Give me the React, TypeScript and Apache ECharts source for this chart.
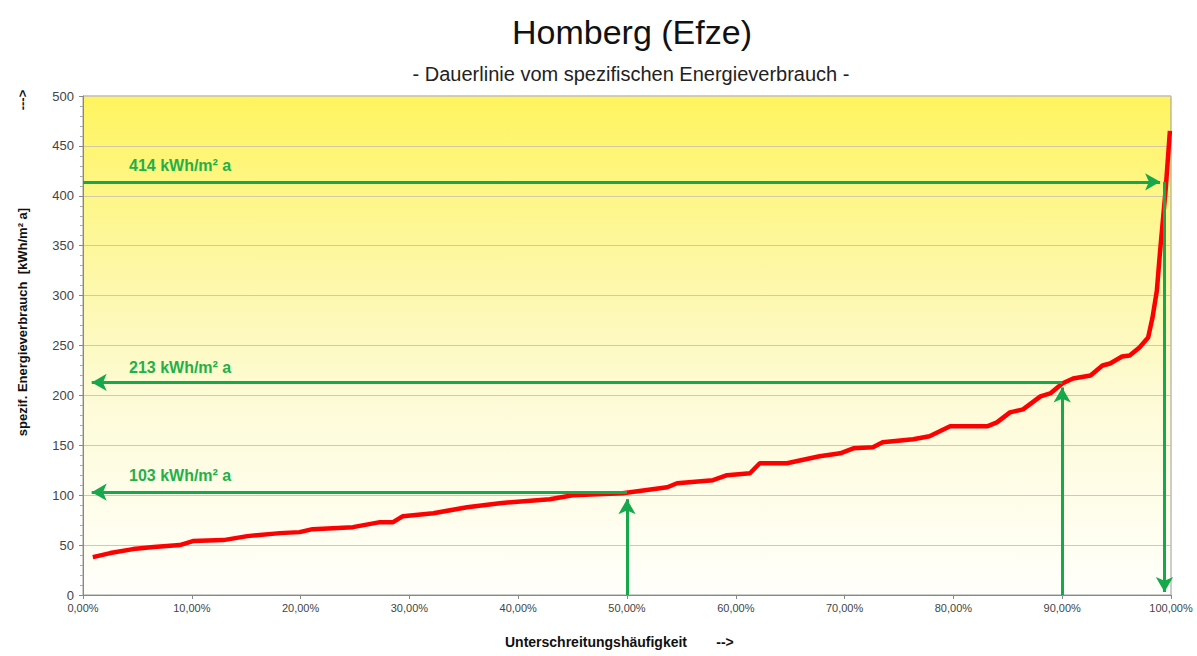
import React, { useEffect, useRef } from "react";
import * as echarts from "echarts";

const pctX: number[] = [0.9, 2.5, 4.6, 6.5, 8.9, 10.1, 12.9, 15.1, 18.1, 19.9, 21.1, 24.8, 27.3, 28.5, 29.4, 32.2, 35.3, 38.3, 42.9, 45.0, 49.6, 53.7, 54.6, 57.9, 59.2, 61.3, 62.2, 64.7, 67.7, 69.6, 70.8, 72.6, 73.5, 76.3, 77.8, 79.7, 83.1, 84.0, 85.2, 86.4, 88.0, 88.9, 90.0, 91.0, 92.6, 93.7, 94.4, 95.5, 96.2, 97.1, 97.9, 98.3, 98.7, 99.0, 99.5, 99.9];
const consumption: number[] = [38, 42, 46, 48, 50, 54, 55, 59, 62, 63, 66, 68, 73, 73, 79, 82, 88, 92, 96, 100, 102, 108, 112, 115, 120, 122, 132, 132, 139, 142, 147, 148, 153, 156, 159, 169, 169, 173, 183, 186, 199, 202, 212, 217, 220, 230, 232, 239, 240, 248, 258, 278, 305, 345, 405, 465];

const markValues: number[] = [414, 213, 103];
const markPercents: number[] = [99.4, 90, 50];
const markLabels: string[] = ["414 kWh/m² a", "213 kWh/m² a", "103 kWh/m² a"];

const FONT = "'Liberation Sans', Arial, sans-serif";
const GREEN = "#16a94c";

export default function App() {
  const ref = useRef<HTMLDivElement>(null);
  useEffect(() => {
    if (!ref.current) return;
    const chart = echarts.init(ref.current, null, { renderer: "svg" });
    const arrowLines: any[] = [
      [{ coord: [0, markValues[0]], symbol: "none" }, { coord: [markPercents[0] - 0.4, markValues[0]], symbol: "arrow" }],
      [{ coord: [markPercents[0], markValues[0]], symbol: "none" }, { coord: [markPercents[0], 3], symbol: "arrow" }],
      [{ coord: [markPercents[1], markValues[1]], symbol: "none" }, { coord: [0.8, markValues[1]], symbol: "arrow" }],
      [{ coord: [markPercents[1], 0], symbol: "none" }, { coord: [markPercents[1], markValues[1] - 5], symbol: "arrow" }],
      [{ coord: [markPercents[2], markValues[2]], symbol: "none" }, { coord: [0.8, markValues[2]], symbol: "arrow" }],
      [{ coord: [markPercents[2], 0], symbol: "none" }, { coord: [markPercents[2], markValues[2] - 7], symbol: "arrow" }],
    ];
    const labelY = [166, 368, 476];
    chart.setOption({
      animation: false,
      backgroundColor: "#ffffff",
      textStyle: { fontFamily: FONT },
      title: [
        {
          text: "Homberg (Efze)",
          left: 627,
          top: 10,
          textAlign: "center",
          textStyle: { fontSize: 34, fontWeight: "normal", color: "#111", fontFamily: FONT },
        },
        {
          text: "- Dauerlinie vom spezifischen Energieverbrauch -",
          left: 626,
          top: 59,
          textAlign: "center",
          textStyle: { fontSize: 20, fontWeight: "normal", color: "#222", fontFamily: FONT },
        },
      ],
      grid: {
        left: 83,
        right: 26,
        top: 96,
        bottom: 61,
        show: true,
        borderColor: "#9a9a9a",
        borderWidth: 1,
        backgroundColor: new echarts.graphic.LinearGradient(0, 0, 0, 1, [
          { offset: 0, color: "#fff45e" },
          { offset: 0.3, color: "#fdf79c" },
          { offset: 0.6, color: "#fdfbd6" },
          { offset: 1, color: "#fffffb" },
        ]),
      },
      xAxis: {
        type: "value",
        min: 0,
        max: 100,
        interval: 10,
        axisLine: { show: true, lineStyle: { color: "#888", width: 1 } },
        axisTick: { show: true, length: 4, inside: false, lineStyle: { color: "#888" } },
        splitLine: { show: false },
        axisLabel: {
          color: "#444",
          fontSize: 11,
          fontFamily: FONT,
          margin: 7,
          formatter: (v: number) => v.toFixed(2).replace(".", ",") + "%",
        },
      },
      yAxis: {
        type: "value",
        min: 0,
        max: 500,
        interval: 50,
        axisLine: { show: true, lineStyle: { color: "#888", width: 1 } },
        axisTick: { show: true, length: 4, lineStyle: { color: "#888" } },
        minorTick: { show: true, splitNumber: 5, length: 3, lineStyle: { color: "#aaa" } },
        splitLine: { show: true, lineStyle: { color: "#d2c9a6", width: 1 } },
        axisLabel: { color: "#444", fontSize: 13, fontFamily: FONT, margin: 9 },
      },
      series: [
        {
          type: "line",
          data: [],
          z: 2,
          silent: true,
          markLine: {
            silent: true,
            animation: false,
            symbolSize: [13, 15],
            label: { show: false },
            lineStyle: { color: GREEN, width: 3, type: "solid" },
            emphasis: { disabled: true },
            data: arrowLines,
          },
        },
        {
          type: "line",
          data: pctX.map((x, i) => [x, consumption[i]]),
          showSymbol: false,
          symbol: "none",
          z: 3,
          lineStyle: { color: "#ff0000", width: 4.5 },
          itemStyle: { color: "#ff0000" },
        },
      ],
      graphic: [
        ...markLabels.map((t, i) => ({
          type: "text",
          left: 129,
          top: labelY[i] - 9,
          style: { text: t, fill: "#22b04a", font: `bold 16px ${FONT}` },
        })),
        {
          type: "text",
          x: 22,
          y: 322,
          rotation: Math.PI / 2,
          style: {
            text: "spezif. Energieverbrauch  [kWh/m² a]",
            fill: "#111",
            font: `bold 13px ${FONT}`,
            align: "center",
            verticalAlign: "middle",
          },
        },
        {
          type: "text",
          x: 22,
          y: 100,
          rotation: Math.PI / 2,
          style: {
            text: "--->",
            fill: "#111",
            font: `bold 13px ${FONT}`,
            align: "center",
            verticalAlign: "middle",
          },
        },
        {
          type: "text",
          x: 596,
          y: 642,
          style: {
            text: "Unterschreitungshäufigkeit",
            fill: "#111",
            font: `bold 14px ${FONT}`,
            align: "center",
            verticalAlign: "middle",
          },
        },
        {
          type: "text",
          x: 725,
          y: 642,
          style: {
            text: "-->",
            fill: "#111",
            font: `bold 14px ${FONT}`,
            align: "center",
            verticalAlign: "middle",
          },
        },
      ],
    });
    return () => chart.dispose();
  }, []);
  return <div ref={ref} style={{ width: 1197, height: 656, position: "absolute", left: 0, top: 0 }} />;
}
